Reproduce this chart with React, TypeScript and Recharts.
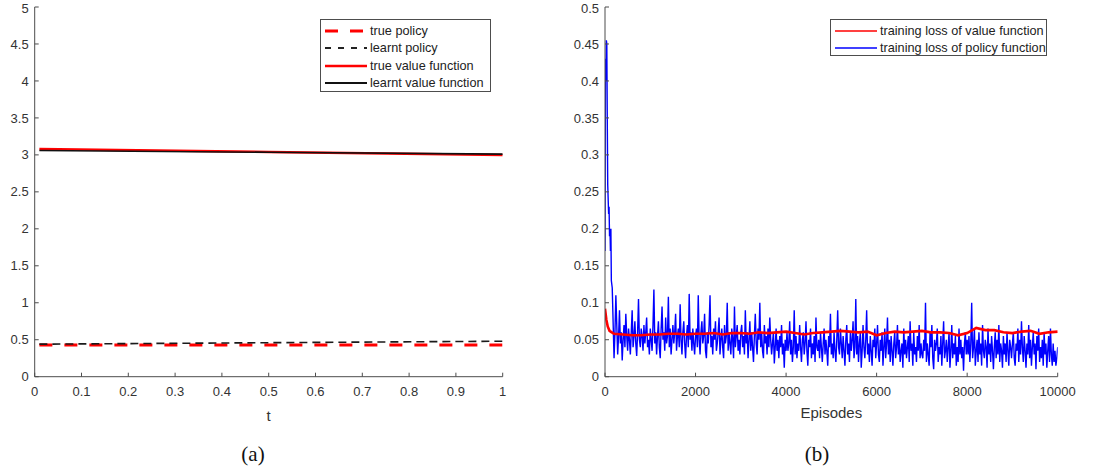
import React from 'react';
import { LineChart, Line, XAxis, YAxis, Legend, Label } from 'recharts';

// ---- panel (a): policy / value function over t ----
const tPoints = [0.01, 0.5, 1];
const truePolicy = [0.43, 0.43, 0.43];
const learntPolicy = [0.44, 0.46, 0.48];
const trueValue = [3.08, 3.04, 3.0];
const learntValue = [3.06, 3.035, 3.01];

const leftXTicks = [0, 0.1, 0.2, 0.3, 0.4, 0.5, 0.6, 0.7, 0.8, 0.9, 1];
const leftYTicks = [0, 0.5, 1, 1.5, 2, 2.5, 3, 3.5, 4, 4.5, 5];

// ---- panel (b): training losses over episodes ----
const rightXTicks = [0, 2000, 4000, 6000, 8000, 10000];
const rightYTicks = [0, 0.05, 0.1, 0.15, 0.2, 0.25, 0.3, 0.35, 0.4, 0.45, 0.5];

const policyEarlyEpisodes = [0, 10, 20, 30, 40, 50, 60, 70, 80, 90, 100, 110, 120, 130, 140, 150, 160];
const policyEarly = [0.17, 0.43, 0.4, 0.455, 0.45, 0.35, 0.26, 0.24, 0.22, 0.23, 0.19, 0.2, 0.17, 0.2, 0.13, 0.125, 0.12];

// every 20 episodes from 200 to 10000
const policyStart = 200;
const policyStep = 20;
const policyLoss = [
  // 200-1000
  0.025, 0.06, 0.11, 0.07, 0.03, 0.055, 0.09, 0.045, 0.06, 0.022,
  0.05, 0.07, 0.04, 0.085, 0.055, 0.035, 0.065, 0.05, 0.03, 0.06,
  0.09, 0.04, 0.055, 0.075, 0.045, 0.028, 0.06, 0.105, 0.05, 0.04,
  0.065, 0.055, 0.035, 0.07, 0.045, 0.06, 0.08, 0.04, 0.05, 0.03,
  0.065,
  // 1020-2000
  0.05, 0.035, 0.07, 0.118, 0.045, 0.06, 0.03, 0.055, 0.075, 0.04,
  0.025, 0.065, 0.095, 0.05, 0.06, 0.035, 0.08, 0.045, 0.055, 0.108,
  0.04, 0.065, 0.03, 0.05, 0.07, 0.045, 0.06, 0.085, 0.035, 0.055,
  0.065, 0.04, 0.098, 0.05, 0.03, 0.06, 0.075, 0.045, 0.025, 0.055,
  0.07, 0.04, 0.112, 0.05, 0.06, 0.035, 0.065, 0.045, 0.03, 0.055,
  // 2020-3000
  0.065, 0.04, 0.11, 0.05, 0.03, 0.06, 0.075, 0.045, 0.055, 0.085,
  0.035, 0.025, 0.06, 0.045, 0.07, 0.11, 0.04, 0.055, 0.03, 0.065,
  0.05, 0.075, 0.035, 0.045, 0.06, 0.08, 0.03, 0.05, 0.065, 0.04,
  0.025, 0.07, 0.045, 0.055, 0.1, 0.035, 0.06, 0.045, 0.03, 0.065,
  0.05, 0.025, 0.095, 0.04, 0.055, 0.07, 0.035, 0.05, 0.03, 0.06,
  // 3020-4000
  0.07, 0.04, 0.055, 0.03, 0.09, 0.045, 0.06, 0.025, 0.05, 0.075,
  0.035, 0.06, 0.04, 0.02, 0.055, 0.085, 0.045, 0.03, 0.065, 0.05,
  0.1, 0.04, 0.06, 0.035, 0.025, 0.07, 0.045, 0.055, 0.03, 0.065,
  0.04, 0.08, 0.05, 0.03, 0.045, 0.06, 0.018, 0.04, 0.065, 0.035,
  0.05, 0.025, 0.055, 0.04, 0.07, 0.03, 0.045, 0.012, 0.05, 0.035,
  // 4020-5000
  0.06, 0.035, 0.045, 0.075, 0.03, 0.05, 0.02, 0.04, 0.09, 0.03,
  0.055, 0.025, 0.045, 0.035, 0.07, 0.04, 0.02, 0.05, 0.06, 0.03,
  0.045, 0.075, 0.035, 0.015, 0.05, 0.04, 0.065, 0.025, 0.045, 0.03,
  0.055, 0.02, 0.08, 0.04, 0.035, 0.05, 0.025, 0.06, 0.04, 0.02,
  0.045, 0.065, 0.03, 0.05, 0.035, 0.015, 0.055, 0.04, 0.085, 0.03,
  // 5020-6000
  0.045, 0.025, 0.06, 0.035, 0.02, 0.05, 0.09, 0.04, 0.03, 0.065,
  0.045, 0.025, 0.055, 0.035, 0.015, 0.05, 0.07, 0.03, 0.045, 0.02,
  0.06, 0.035, 0.05, 0.075, 0.025, 0.04, 0.105, 0.03, 0.055, 0.02,
  0.045, 0.06, 0.012, 0.035, 0.07, 0.04, 0.025, 0.05, 0.09, 0.03,
  0.045, 0.02, 0.055, 0.035, 0.015, 0.05, 0.04, 0.065, 0.025, 0.045,
  // 6020-7000
  0.07, 0.03, 0.02, 0.05, 0.035, 0.06, 0.015, 0.04, 0.065, 0.025,
  0.045, 0.08, 0.03, 0.05, 0.02, 0.055, 0.035, 0.015, 0.045, 0.06,
  0.025, 0.04, 0.07, 0.03, 0.05, 0.02, 0.035, 0.045, 0.012, 0.065,
  0.03, 0.05, 0.025, 0.04, 0.055, 0.02, 0.075, 0.035, 0.045, 0.015,
  0.06, 0.03, 0.04, 0.02, 0.055, 0.035, 0.07, 0.025, 0.045, 0.03,
  // 7020-8000
  0.025, 0.05, 0.035, 0.1, 0.02, 0.045, 0.03, 0.015, 0.06, 0.04,
  0.07, 0.025, 0.01, 0.05, 0.035, 0.045, 0.065, 0.02, 0.04, 0.03,
  0.055, 0.015, 0.045, 0.075, 0.025, 0.035, 0.05, 0.02, 0.04, 0.06,
  0.012, 0.035, 0.07, 0.025, 0.045, 0.03, 0.055, 0.015, 0.04, 0.02,
  0.065, 0.03, 0.05, 0.025, 0.04, 0.008, 0.045, 0.06, 0.03, 0.05,
  // 8020-9000
  0.03, 0.055, 0.02, 0.045, 0.1, 0.025, 0.04, 0.065, 0.015, 0.035,
  0.05, 0.02, 0.06, 0.03, 0.045, 0.015, 0.07, 0.035, 0.025, 0.05,
  0.04, 0.012, 0.065, 0.03, 0.045, 0.02, 0.055, 0.035, 0.01, 0.04,
  0.06, 0.025, 0.05, 0.03, 0.07, 0.02, 0.045, 0.035, 0.012, 0.055,
  0.03, 0.045, 0.02, 0.06, 0.035, 0.015, 0.05, 0.04, 0.025, 0.045,
  // 9020-10000
  0.06, 0.025, 0.015, 0.045, 0.035, 0.065, 0.02, 0.05, 0.03, 0.075,
  0.04, 0.02, 0.055, 0.035, 0.012, 0.045, 0.03, 0.07, 0.025, 0.05,
  0.015, 0.04, 0.06, 0.03, 0.045, 0.01, 0.055, 0.035, 0.065, 0.02,
  0.04, 0.025, 0.05, 0.015, 0.06, 0.03, 0.045, 0.012, 0.035, 0.055,
  0.02, 0.065, 0.03, 0.015, 0.045, 0.02, 0.035, 0.015, 0.025, 0.04,
];

const valueEarlyEpisodes = [0, 30, 60, 100, 150];
const valueEarly = [0.092, 0.077, 0.068, 0.062, 0.06];

// every 200 episodes from 200 to 10000
const valueStart = 200;
const valueStep = 200;
const valueLoss = [
  0.058, 0.057, 0.056, 0.056, 0.057, 0.057, 0.058, 0.058, 0.057, 0.058,
  0.058, 0.059, 0.057, 0.059, 0.059, 0.058, 0.06, 0.059, 0.06, 0.061,
  0.059, 0.057, 0.059, 0.06, 0.061, 0.062, 0.061, 0.06, 0.061, 0.056,
  0.059, 0.061, 0.06, 0.061, 0.062, 0.06, 0.06, 0.059, 0.056, 0.059,
  0.066, 0.063, 0.063, 0.06, 0.059, 0.061, 0.062, 0.058, 0.06, 0.061,
];

const pairs = (xs: number[], ys: number[], key: string) => xs.map((x, i) => ({ [key]: x, v: ys[i] }));

const tSeries = (ys: number[]) => pairs(tPoints, ys, 't');

const policyData = [
  ...pairs(policyEarlyEpisodes, policyEarly, 'ep'),
  ...policyLoss.map((v, i) => ({ ep: policyStart + i * policyStep, v })),
];
const valueData = [
  ...pairs(valueEarlyEpisodes, valueEarly, 'ep'),
  ...valueLoss.map((v, i) => ({ ep: valueStart + i * valueStep, v })),
];

const FONT = '"Liberation Sans", Arial, Helvetica, sans-serif';
const AXIS = '#4d4d4d';
const tickStyle = { fontSize: 13, fill: '#333', fontFamily: FONT };

const LegendRow = ({ color, width, dash, label }: { color: string; width: number; dash?: string; label: string }) => (
  <div style={{ display: 'flex', alignItems: 'center', height: 17.5 }}>
    <svg width={44} height={10} style={{ flex: 'none' }}>
      <line x1={1} y1={5} x2={43} y2={5} stroke={color} strokeWidth={width} strokeDasharray={dash} />
    </svg>
    <span style={{ marginLeft: 2, fontSize: 12.7, fontFamily: FONT, color: '#222', whiteSpace: 'nowrap' }}>{label}</span>
  </div>
);

const legendBox: React.CSSProperties = {
  border: '1px solid #4d4d4d',
  background: '#fff',
  boxSizing: 'border-box',
  padding: '2px 3px',
};

const LeftLegend = () => (
  <div style={{ ...legendBox, width: 171, height: 73 }}>
    <LegendRow color="#ff0000" width={3} dash="13 12" label="true policy" />
    <LegendRow color="#222" width={2} dash="6 7" label="learnt policy" />
    <LegendRow color="#ff0000" width={2.5} label="true value function" />
    <LegendRow color="#111" width={2} label="learnt value function" />
  </div>
);

const RightLegend = () => (
  <div style={{ ...legendBox, width: 217, height: 37 }}>
    <LegendRow color="#ff0000" width={1.3} label="training loss of value function" />
    <LegendRow color="#0000ff" width={1.3} label="training loss of policy function" />
  </div>
);

const caption: React.CSSProperties = {
  position: 'absolute',
  top: 442,
  fontSize: 21,
  fontFamily: '"Liberation Serif", "DejaVu Serif", serif',
  color: '#111',
  width: 60,
  textAlign: 'center',
};

export default function App() {
  return (
    <div style={{ position: 'absolute', left: 0, top: 0, width: 1102, height: 474, background: '#fff', overflow: 'hidden' }}>
      <div style={{ position: 'absolute', left: 0, top: 0 }}>
        <LineChart width={520} height={474} margin={{ top: 7, right: 17.3, left: 0, bottom: 52.3 }}>
          <XAxis
            type="number"
            dataKey="t"
            domain={[0, 1]}
            ticks={leftXTicks}
            allowDataOverflow
            height={45}
            stroke={AXIS}
            tick={tickStyle}
            tickSize={-4}
            tickMargin={14}
            tickFormatter={(d: number) => String(d)}
          >
            <Label value="t" position="insideBottom" offset={1} style={{ fontSize: 15, fill: '#333', fontFamily: FONT }} />
          </XAxis>
          <XAxis xAxisId="top" orientation="top" type="number" dataKey="t" domain={[0, 1]} ticks={leftXTicks} allowDataOverflow height={0} stroke={AXIS} tick={false} tickSize={-4} />
          <YAxis
            type="number"
            domain={[0, 5]}
            ticks={leftYTicks}
            allowDataOverflow
            width={34.7}
            stroke={AXIS}
            tick={tickStyle}
            tickSize={-4}
            tickMargin={10}
            tickFormatter={(d: number) => String(d)}
          />
          <YAxis yAxisId="right" orientation="right" type="number" domain={[0, 5]} ticks={leftYTicks} allowDataOverflow width={0} stroke={AXIS} tick={false} tickSize={-4} />
          <Line data={tSeries(truePolicy)} dataKey="v" stroke="#ff0000" strokeWidth={3} strokeDasharray="13 12" dot={false} isAnimationActive={false} />
          <Line data={tSeries(learntPolicy)} dataKey="v" stroke="#1a1a1a" strokeWidth={1.6} strokeDasharray="8 5" dot={false} isAnimationActive={false} />
          <Line data={tSeries(trueValue)} dataKey="v" stroke="#ff0000" strokeWidth={2.5} dot={false} isAnimationActive={false} />
          <Line data={tSeries(learntValue)} dataKey="v" stroke="#111" strokeWidth={1.6} dot={false} isAnimationActive={false} />
          <Legend
            layout="vertical"
            align="center"
            verticalAlign="middle"
            content={() => <LeftLegend />}
            wrapperStyle={{ left: 320, top: 19, width: 171, height: 73 }}
          />
        </LineChart>
      </div>

      <div style={{ position: 'absolute', left: 560, top: 0 }}>
        <LineChart width={520} height={474} margin={{ top: 7, right: 22.3, left: 0, bottom: 52.3 }}>
          <XAxis
            type="number"
            dataKey="ep"
            domain={[0, 10000]}
            ticks={rightXTicks}
            allowDataOverflow
            height={45}
            stroke={AXIS}
            tick={tickStyle}
            tickSize={-4}
            tickMargin={14}
          >
            <Label value="Episodes" position="insideBottom" offset={4} style={{ fontSize: 15, fill: '#333', fontFamily: FONT }} />
          </XAxis>
          <XAxis xAxisId="top" orientation="top" type="number" dataKey="ep" domain={[0, 10000]} ticks={rightXTicks} allowDataOverflow height={0} stroke={AXIS} tick={false} tickSize={-4} />
          <YAxis
            type="number"
            domain={[0, 0.5]}
            ticks={rightYTicks}
            allowDataOverflow
            width={45}
            stroke={AXIS}
            tick={tickStyle}
            tickSize={-4}
            tickMargin={10}
            tickFormatter={(d: number) => String(d)}
          />
          <YAxis yAxisId="right" orientation="right" type="number" domain={[0, 0.5]} ticks={rightYTicks} allowDataOverflow width={0} stroke={AXIS} tick={false} tickSize={-4} />
          <Line data={policyData} dataKey="v" stroke="#0000ff" strokeWidth={1.4} dot={false} isAnimationActive={false} />
          <Line data={valueData} dataKey="v" stroke="#ff0000" strokeWidth={2.6} dot={false} isAnimationActive={false} />
          <Legend
            layout="vertical"
            align="center"
            verticalAlign="middle"
            content={() => <RightLegend />}
            wrapperStyle={{ left: 270, top: 19, width: 217, height: 37 }}
          />
        </LineChart>
      </div>

      <div style={{ ...caption, left: 223 }}>(a)</div>
      <div style={{ ...caption, left: 787 }}>(b)</div>
    </div>
  );
}
